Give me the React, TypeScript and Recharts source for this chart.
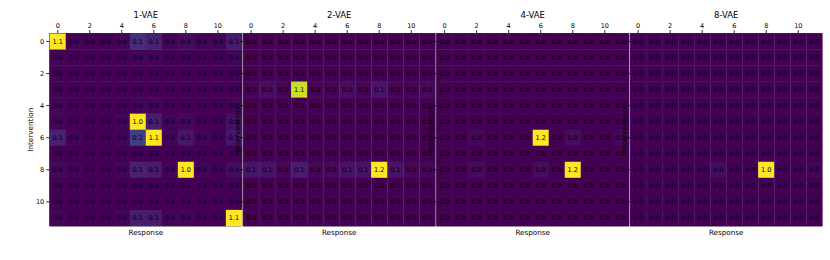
import React from 'react';
import { ScatterChart, Scatter, XAxis, YAxis } from 'recharts';

const titles = ['1-VAE', '2-VAE', '4-VAE', '8-VAE'];
const xTicks = [0, 2, 4, 6, 8, 10];
const yTicks = [0, 2, 4, 6, 8, 10];
const Z = [0, 0, 0, 0, 0, 0, 0, 0, 0, 0, 0, 0];

const vae1 = [
  [1.12, 0.01, 0.0, 0.0, 0.01, 0.13, 0.09, 0.01, 0.03, 0.01, 0.01, 0.07],
  [0.01, 0.0, 0.0, 0.0, 0.0, 0.01, 0.01, 0.0, 0.0, 0.0, 0.0, 0.01],
  Z,
  Z,
  [0.01, 0.0, 0.0, 0.0, 0.0, 0.01, 0.01, 0.0, 0.0, 0.0, 0.0, 0.01],
  [0.01, 0.0, 0.0, 0.0, 0.01, 1.03, 0.08, 0.01, 0.02, 0.0, 0.0, 0.04],
  [0.09, 0.01, 0.0, 0.0, 0.01, 0.18, 1.08, 0.01, 0.06, 0.01, 0.0, 0.06],
  Z,
  [0.02, 0.01, 0.0, 0.0, 0.01, 0.09, 0.07, 0.01, 1.04, 0.01, 0.0, 0.03],
  Z,
  Z,
  [0.01, 0.0, 0.0, 0.0, 0.01, 0.08, 0.07, 0.01, 0.01, 0.0, 0.0, 1.09],
];

const vae2 = [
  Z, Z, Z,
  [0.01, 0.04, 0.01, 1.1, 0.01, 0.01, 0.04, 0.01, 0.07, 0.01, 0.01, 0.03],
  Z, Z, Z, Z,
  [0.07, 0.06, 0.02, 0.09, 0.02, 0.03, 0.06, 0.06, 1.2, 0.06, 0.02, 0.02],
  Z, Z, Z,
];

const vae4 = [
  Z, Z, Z, Z, Z, Z,
  [0.0, 0.0, 0.02, 0.0, 0.0, 0.0, 1.2, 0.0, 0.04, 0.0, 0.0, 0.02],
  Z,
  [0.0, 0.0, 0.03, 0.0, 0.0, 0.0, 0.04, 0.0, 1.2, 0.0, 0.0, 0.0],
  Z, Z, Z,
];

const vae8 = [
  Z, Z, Z, Z, Z, Z, Z, Z,
  [0.0, 0.0, 0.0, 0.0, 0.0, 0.03, 0.0, 0.0, 1.0, 0.0, 0.0, 0.01],
  Z, Z, Z,
];

const matrices = [vae1, vae2, vae4, vae8];
const colorMax = [1.0, 1.2, 1.2, 1.0];

const VIRIDIS = [
  '#440154', '#482475', '#414487', '#355f8d', '#2a788e', '#21918c',
  '#22a884', '#44bf70', '#7ad151', '#bddf26', '#fde725',
];

function hexToRgb(h: string) {
  return [parseInt(h.slice(1, 3), 16), parseInt(h.slice(3, 5), 16), parseInt(h.slice(5, 7), 16)];
}

function viridis(t: number) {
  const c = Math.max(0, Math.min(1, t)) * 10;
  const i = Math.min(9, Math.floor(c));
  const f = c - i;
  const a = hexToRgb(VIRIDIS[i]);
  const b = hexToRgb(VIRIDIS[i + 1]);
  const r = a.map((v, k) => Math.round(v + (b[k] - v) * f));
  return `rgb(${r[0]},${r[1]},${r[2]})`;
}

const W = 830;
const H = 260;
const N = 12;
const PLOT_LEFT = [49.7, 243.1, 436.6, 630.1];
const PLOT_W = 192.2;
const PLOT_TOP = 33.5;
const PLOT_H = 192.4;
const Y_AXIS_W = 30;
const TOP_AXIS_H = 33.5;
const BOTTOM_AXIS_H = 20;
const FONT = 'DejaVu Sans';

function Panel({ idx }: { idx: number }) {
  const left = PLOT_LEFT[idx];
  const vmax = colorMax[idx];
  const data = matrices[idx].flatMap((row, r) => row.map((v, c) => ({ x: c, y: r, v })));
  const cw = PLOT_W / N;
  const ch = PLOT_H / N;
  const shape = (props: any) => {
    const { cx, cy, payload } = props;
    return (
      <g>
        <rect x={cx - cw / 2} y={cy - ch / 2} width={cw + 0.3} height={ch + 0.3} fill={viridis(payload.v / vmax)} />
        <text x={cx} y={cy} dy="0.36em" textAnchor="middle" fontSize={6.5} fontFamily={FONT} fill="#000">
          {payload.v.toFixed(1)}
        </text>
      </g>
    );
  };
  const margin = {
    top: PLOT_TOP - TOP_AXIS_H,
    left: left - Y_AXIS_W,
    right: W - (left + PLOT_W),
    bottom: H - (PLOT_TOP + PLOT_H) - BOTTOM_AXIS_H,
  };
  const axisStroke = { stroke: '#000', strokeWidth: 0.8 };
  return (
    <div style={{ position: 'absolute', left: 0, top: 0 }}>
      <ScatterChart width={W} height={H} margin={margin}>
        <XAxis
          xAxisId="t"
          type="number"
          dataKey="x"
          orientation="top"
          domain={[-0.5, 11.5]}
          ticks={xTicks}
          height={TOP_AXIS_H}
          tickSize={3.5}
          tickMargin={2}
          axisLine={axisStroke}
          tickLine={axisStroke}
          tick={{ fontSize: 6.5, fill: '#000', fontFamily: FONT }}
          label={{ value: titles[idx], position: 'insideTop', offset: 11.5, fill: '#000', fontSize: 8.5, fontFamily: FONT }}
        />
        <XAxis
          xAxisId="b"
          type="number"
          orientation="bottom"
          domain={[-0.5, 11.5]}
          ticks={xTicks}
          height={BOTTOM_AXIS_H}
          tickSize={3.5}
          axisLine={axisStroke}
          tickLine={axisStroke}
          tickFormatter={() => ''}
          label={{ value: 'Response', position: 'insideTop', offset: 3.6, fill: '#000', fontSize: 7.2, fontFamily: FONT }}
        />
        <YAxis
          yAxisId="l"
          type="number"
          dataKey="y"
          reversed
          domain={[-0.5, 11.5]}
          ticks={yTicks}
          width={Y_AXIS_W}
          tickSize={3.5}
          tickMargin={2}
          axisLine={axisStroke}
          tickLine={axisStroke}
          tick={{ fontSize: 6.5, fill: '#000', fontFamily: FONT }}
          tickFormatter={idx === 0 ? undefined : () => ''}
          label={{
            value: 'Intervention',
            angle: -90,
            position: 'insideLeft',
            offset: idx === 0 ? 10.3 : 23.9,
            fill: '#000',
            fontSize: 7.2,
            fontFamily: FONT,
            style: { textAnchor: 'middle' },
          }}
        />
        <YAxis
          yAxisId="r"
          type="number"
          orientation="right"
          reversed
          domain={[-0.5, 11.5]}
          width={0}
          tick={false}
          tickLine={false}
          axisLine={axisStroke}
        />
        <Scatter data={data} xAxisId="t" yAxisId="l" shape={shape} isAnimationActive={false} />
      </ScatterChart>
    </div>
  );
}

export default function App() {
  return (
    <div style={{ position: 'absolute', left: 0, top: 0, width: W, height: H, background: '#fff', fontFamily: FONT }}>
      {[0, 1, 2, 3].map((i) => (
        <Panel key={i} idx={i} />
      ))}
    </div>
  );
}
